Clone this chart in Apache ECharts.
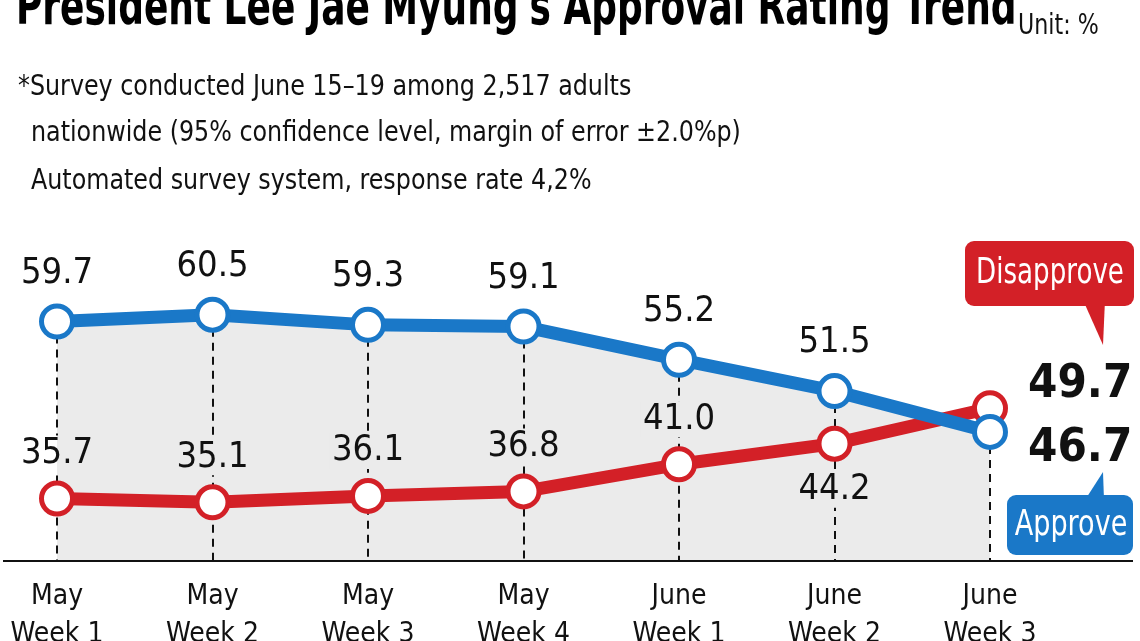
<!DOCTYPE html>
<html>
<head>
<meta charset="utf-8">
<script src="https://cdn.jsdelivr.net/npm/echarts@6/dist/echarts.min.js"></script>
<style>
html,body{margin:0;padding:0;background:#fff;}
#chart{width:1140px;height:641px;}
</style>
</head>
<body>
<div id="chart"></div>
<script>
const categories = ['May\nWeek 1', 'May\nWeek 2', 'May\nWeek 3', 'May\nWeek 4', 'June\nWeek 1', 'June\nWeek 2', 'June\nWeek 3'];
const approve = [59.7, 60.5, 59.3, 59.1, 55.2, 51.5, 46.7];
const disapprove = [35.7, 35.1, 36.1, 36.8, 41.0, 44.2, 49.7];
const titleText = "President Lee Jae Myung's Approval Rating Trend";
const unitText = 'Unit: %';
const notes = [
  '*Survey conducted June 15\u201319 among 2,517 adults',
  'nationwide (95% confidence level, margin of error \u00b12.0%p)',
  'Automated survey system, response rate 4,2%'
];
const seriesNames = ['Approve', 'Disapprove'];

const FONT = '"Liberation Sans Narrow", "Arial Narrow", "DejaVu Sans Condensed", sans-serif';
const BLUE = '#1a78c8';
const RED = '#d32027';
const FILL = '#ebebeb';
const blueMin = 31.5, blueMax = 74;
const redMin = 26, redMax = 82;
const last = categories.length - 1;

const chart = echarts.init(document.getElementById('chart'));
const fmt = p => Number(p.value).toFixed(1);

function pointData(values, isRed) {
  return values.map((v, i) => {
    const d = { value: v };
    if (i === last) {
      d.label = {
        position: 'right', distance: 20, offset: [0, isRed ? -23 : 17],
        fontSize: 47, fontWeight: 'bold', color: '#111', fontFamily: FONT,
        backgroundColor: 'transparent', padding: 0
      };
    } else if (isRed && i === 5) {
      d.label = { position: 'bottom', distance: 10 };
    } else if (isRed && i === 0) {
      d.label = {
        backgroundColor: new echarts.graphic.LinearGradient(0, 0, 1, 0, [
          { offset: 0, color: '#fff' }, { offset: 0.5, color: '#fff' },
          { offset: 0.5, color: FILL }, { offset: 1, color: FILL }
        ])
      };
    }
    return d;
  });
}

const noteStyle = { fill: '#111', font: '28px ' + FONT };

const option = {
  animation: false,
  backgroundColor: '#fff',
  grid: { left: 57, right: 150, top: 200, bottom: 80, containLabel: false, outerBoundsMode: 'none' },
  xAxis: {
    type: 'category', data: categories, boundaryGap: false,
    axisLine: { show: false }, axisTick: { show: false }, splitLine: { show: false },
    axisLabel: { fontSize: 28, color: '#111', fontFamily: FONT, lineHeight: 38, margin: 17 }
  },
  yAxis: [
    { type: 'value', min: blueMin, max: blueMax, show: false },
    { type: 'value', min: redMin, max: redMax, show: false }
  ],
  graphic: [
    { type: 'text', x: 16, y: -17, scaleX: 0.74, style: { text: titleText, fill: '#000', font: 'bold 54px ' + FONT } },
    { type: 'text', x: 1018, y: 13, scaleX: 0.88, style: { text: unitText, fill: '#111', font: '28px ' + FONT } },
    { type: 'text', x: 18, y: 74, scaleX: 0.945, style: Object.assign({ text: notes[0] }, noteStyle) },
    { type: 'text', x: 31, y: 120, scaleX: 0.945, style: Object.assign({ text: notes[1] }, noteStyle) },
    { type: 'text', x: 31, y: 168, scaleX: 0.945, style: Object.assign({ text: notes[2] }, noteStyle) },
    { type: 'line', shape: { x1: 3, y1: 561, x2: 1133, y2: 561 }, style: { stroke: '#111', lineWidth: 2 }, z: 10 },
    { type: 'polygon', shape: { points: [[1083, 300], [1105, 300], [1103, 345]] }, style: { fill: RED }, z: 10 },
    { type: 'rect', shape: { x: 965, y: 241, width: 169, height: 65, r: 9 }, style: { fill: RED }, z: 10 },
    { type: 'text', x: 1050, y: 274, scaleX: 0.83, style: { text: seriesNames[1], fill: '#fff', font: '35px ' + FONT, align: 'center', verticalAlign: 'middle' }, z: 11 },
    { type: 'polygon', shape: { points: [[1085, 500], [1104, 500], [1103, 472]] }, style: { fill: BLUE }, z: 10 },
    { type: 'rect', shape: { x: 1007, y: 495, width: 126, height: 60, r: 9 }, style: { fill: BLUE }, z: 10 },
    { type: 'text', x: 1071, y: 526, scaleX: 0.86, style: { text: seriesNames[0], fill: '#fff', font: '35px ' + FONT, align: 'center', verticalAlign: 'middle' }, z: 11 }
  ],
  series: [
    {
      name: 'fill', type: 'line', data: approve, yAxisIndex: 0, z: 1, silent: true,
      symbol: 'none', lineStyle: { width: 0, opacity: 0 },
      areaStyle: { color: FILL, opacity: 1 }
    },
    {
      name: 'guides', type: 'line', data: approve, yAxisIndex: 0, z: 2, silent: true,
      symbol: 'none', lineStyle: { width: 0, opacity: 0 },
      markLine: {
        z: 2, silent: true, symbol: 'none', label: { show: false },
        lineStyle: { color: '#111', width: 2, type: [8, 6] },
        data: approve.map((v, i) => [{ coord: [i, v] }, { coord: [i, blueMin] }])
      }
    },
    {
      name: seriesNames[1], type: 'line', yAxisIndex: 1, z: 3,
      data: pointData(disapprove, true),
      lineStyle: { color: RED, width: 13 },
      symbol: 'circle', symbolSize: 31,
      itemStyle: { color: '#fff', borderColor: RED, borderWidth: 5 },
      label: { show: true, position: 'top', distance: 9, fontSize: 36, color: '#111', fontFamily: FONT, formatter: fmt,
               backgroundColor: FILL, padding: [0, 2] },
      emphasis: { disabled: true }
    },
    {
      name: seriesNames[0], type: 'line', yAxisIndex: 0, z: 4,
      data: pointData(approve, false),
      lineStyle: { color: BLUE, width: 13 },
      symbol: 'circle', symbolSize: 31,
      itemStyle: { color: '#fff', borderColor: BLUE, borderWidth: 5 },
      label: { show: true, position: 'top', distance: 12, fontSize: 36, color: '#111', fontFamily: FONT, formatter: fmt },
      emphasis: { disabled: true }
    }
  ]
};
chart.setOption(option);
</script>
</body>
</html>
